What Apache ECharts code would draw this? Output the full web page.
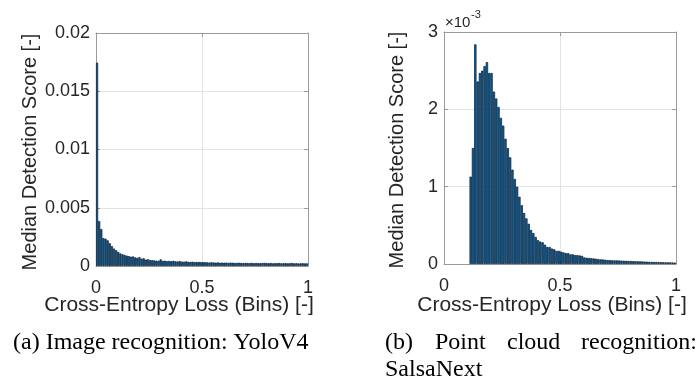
<!DOCTYPE html>
<html>
<head>
<meta charset="utf-8">
<title>Median detection score over cross-entropy loss</title>
<script src="https://cdn.jsdelivr.net/npm/echarts@6/dist/echarts.min.js"></script>
<style>
    html, body { margin: 0; padding: 0; background: #fff; }
    #chart { width: 698px; height: 381px; }
</style>
</head>
<body>
<div id="chart"></div>
<script>
    // histogram bins (same width in both plots)
    var binWidth = 0.01;
    var xTicks = [0, 0.5, 1];

    // (a) YoloV4 - bins start at 0
    var yoloFirstBin = 0;
    var yoloTicks = [0, 0.005, 0.01, 0.015, 0.02];
    var yoloScore = [
        0.01745, 0.00386, 0.00317, 0.00240, 0.00234, 0.00220, 0.00195, 0.00170, 0.00150, 0.00135,
        0.00120, 0.00108, 0.00100, 0.00095, 0.00089, 0.00085, 0.00080, 0.00082, 0.00074, 0.00070,
        0.00076, 0.00063, 0.00066, 0.00055, 0.00058, 0.00052, 0.00050, 0.00048, 0.00046, 0.00045,
        0.00057, 0.00044, 0.00046, 0.00042, 0.00044, 0.00041, 0.00045, 0.00040, 0.00039, 0.00042,
        0.00038, 0.00037, 0.00040, 0.00036, 0.00035, 0.00037, 0.00034, 0.00034, 0.00035, 0.00033,
        0.00032, 0.00033, 0.00031, 0.00030, 0.00032, 0.00030, 0.00029, 0.00031, 0.00028, 0.00029,
        0.00028, 0.00029, 0.00027, 0.00029, 0.00028, 0.00026, 0.00027, 0.00028, 0.00026, 0.00025,
        0.00027, 0.00026, 0.00025, 0.00027, 0.00024, 0.00026, 0.00025, 0.00024, 0.00026, 0.00027,
        0.00025, 0.00024, 0.00026, 0.00023, 0.00025, 0.00024, 0.00026, 0.00023, 0.00024, 0.00025,
        0.00023, 0.00024, 0.00026, 0.00023, 0.00024, 0.00022, 0.00023, 0.00024, 0.00022, 0.00023
    ];

    // (b) SalsaNext - first non empty bin at 0.11, values in 1e-3
    var salsaFirstBin = 0.11;
    var salsaTicks = [0, 1, 2, 3];
    var salsaScore = [
        1.13, 1.50, 2.84, 2.36, 2.47, 2.50, 2.56, 2.61, 2.47, 2.47,
        2.23, 2.14, 2.03, 1.89, 1.79, 1.62, 1.50, 1.38, 1.22, 1.10,
        1.00, 0.87, 0.76, 0.66, 0.59, 0.52, 0.44, 0.40, 0.35, 0.31,
        0.29, 0.28, 0.25, 0.22, 0.22, 0.20, 0.19, 0.17, 0.17, 0.16,
        0.15, 0.14, 0.14, 0.125, 0.125, 0.115, 0.115, 0.11, 0.105, 0.085,
        0.08, 0.078, 0.075, 0.072, 0.068, 0.063, 0.06, 0.058, 0.055, 0.052,
        0.05, 0.048, 0.047, 0.046, 0.045, 0.044, 0.042, 0.041, 0.04, 0.039,
        0.037, 0.036, 0.035, 0.034, 0.033, 0.031, 0.03, 0.028, 0.027, 0.026,
        0.026, 0.025, 0.024, 0.023, 0.022, 0.022, 0.021, 0.02, 0.018
    ];

    var fontSans = '"Liberation Sans", Arial, Helvetica, sans-serif';
    var fontSerif = '"Liberation Serif", "Times New Roman", serif';
    var boxColor = '#9a9a9a';
    var gridColor = '#e3e3e3';
    var textColor = '#262626';

    // bin centre on the x scale
    function toBars(firstBin, values) {
        return values.map(function (v, i) {
            return [firstBin + (i + 0.5) * binWidth, v];
        });
    }

    function xAxes(gridIndex) {
        var base = {
            gridIndex: gridIndex,
            type: 'value',
            min: xTicks[0],
            max: xTicks[xTicks.length - 1],
            interval: xTicks[1] - xTicks[0],
            axisLine: { onZero: false, lineStyle: { color: boxColor } },
            axisTick: { inside: true, length: 4, lineStyle: { color: boxColor } }
        };
        return [
            Object.assign({}, base, {
                position: 'bottom',
                axisLabel: { color: textColor, fontFamily: fontSans, fontSize: 18, margin: 13 },
                splitLine: { show: true, lineStyle: { color: gridColor } }
            }),
            Object.assign({}, base, {
                position: 'top',
                axisLabel: { show: false },
                splitLine: { show: false }
            })
        ];
    }

    function yAxes(gridIndex, ticks) {
        var base = {
            gridIndex: gridIndex,
            type: 'value',
            min: ticks[0],
            max: ticks[ticks.length - 1],
            interval: ticks[1] - ticks[0],
            axisLine: { show: true, onZero: false, lineStyle: { color: boxColor } },
            axisTick: { show: true, inside: true, length: 4, lineStyle: { color: boxColor } }
        };
        return [
            Object.assign({}, base, {
                position: 'left',
                axisLabel: { color: textColor, fontFamily: fontSans, fontSize: 18, margin: 6 },
                splitLine: { show: true, lineStyle: { color: gridColor } }
            }),
            Object.assign({}, base, {
                position: 'right',
                axisLabel: { show: false },
                splitLine: { show: false }
            })
        ];
    }

    function barSeries(axisIndex, data) {
        return {
            type: 'bar',
            xAxisIndex: axisIndex,
            yAxisIndex: axisIndex,
            barWidth: '100%',
            data: data,
            itemStyle: { color: '#0066ad', borderColor: '#0b1a2b', borderWidth: 0.7 },
            silent: true
        };
    }

    function label(text, x, y, opts) {
        return Object.assign({
            type: 'text',
            x: x,
            y: y,
            style: Object.assign({
                text: text,
                fill: textColor,
                font: '20px ' + fontSans,
                align: 'center',
                verticalAlign: 'middle'
            }, opts && opts.style)
        }, opts && opts.el);
    }

    var chart = echarts.init(document.getElementById('chart'));
    chart.setOption({
        animation: false,
        grid: [
            { left: 96, top: 33, width: 212, height: 233 },
            { left: 444, top: 32, width: 232, height: 232 }
        ],
        xAxis: xAxes(0).concat(xAxes(1)),
        yAxis: yAxes(0, yoloTicks).concat(yAxes(1, salsaTicks)),
        series: [
            barSeries(0, toBars(yoloFirstBin, yoloScore)),
            barSeries(2, toBars(salsaFirstBin, salsaScore))
        ],
        graphic: [
            // axis titles
            label('Cross-Entropy Loss (Bins) [-]', 179, 305, { style: { font: '21px ' + fontSans } }),
            label('Cross-Entropy Loss (Bins) [-]', 552, 305, { style: { font: '21px ' + fontSans } }),
            label('Median Detection Score [-]', 30, 152, { el: { rotation: Math.PI / 2 } }),
            label('Median Detection Score [-]', 397, 150, { el: { rotation: Math.PI / 2 } }),
            // exponent of the right y axis
            label('\u00d710', 445, 23, { style: { font: '15px ' + fontSans, align: 'left' } }),
            label('-3', 471, 15, { style: { font: '11px ' + fontSans, align: 'left' } }),
            // sub captions
            label('(a) Image recognition: YoloV4', 13, 343, { style: { font: '24px ' + fontSerif, fill: '#000', align: 'left' } }),
            label('(b)', 385, 343, { style: { font: '24px ' + fontSerif, fill: '#000', align: 'left' } }),
            label('Point', 435, 343, { style: { font: '24px ' + fontSerif, fill: '#000', align: 'left' } }),
            label('cloud', 507, 343, { style: { font: '24px ' + fontSerif, fill: '#000', align: 'left' } }),
            label('recognition:', 697, 343, { style: { font: '24px ' + fontSerif, fill: '#000', align: 'right' } }),
            label('SalsaNext', 385, 370, { style: { font: '24px ' + fontSerif, fill: '#000', align: 'left' } })
        ]
    });

    window.addEventListener('resize', function () {
        chart.resize();
    });
</script>
</body>
</html>
